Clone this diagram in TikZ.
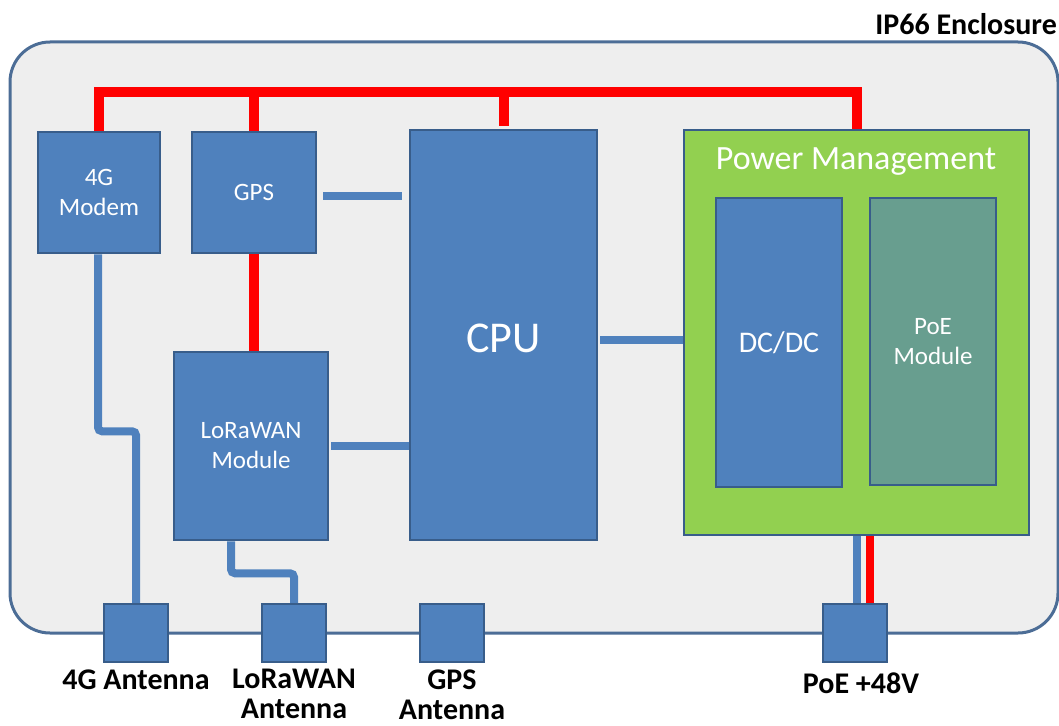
\documentclass[tikz,border=0pt]{standalone}
\usepackage{fontspec}
\setmainfont{Carlito}
\usetikzlibrary{positioning,calc}
\definecolor{mblue}{HTML}{4F81BD}
\definecolor{mblueL}{HTML}{385D8A}
\definecolor{mgreen}{HTML}{92D050}
\definecolor{mteal}{HTML}{689E8F}
\definecolor{mgray}{HTML}{EEEEEE}
\definecolor{mred}{HTML}{FF0000}
\tikzset{
  blk/.style ={draw=mblueL, fill=mblue, line width=2.5pt, inner sep=0pt, align=center,
               text=white, font=\fontsize{25}{30}\selectfont},
  pmb/.style ={blk, fill=mgreen},
  ant/.style ={blk, minimum width=64pt, minimum height=58pt},
  lab/.style ={font=\fontsize{30}{30}\selectfont\bfseries, align=center, inner sep=0pt},
  sig/.style ={draw=mblue, line width=8pt},
  pwr/.style ={draw=mred, line width=10pt},
}

\begin{document}
\begin{tikzpicture}[x=1pt,y=-1pt]
\useasboundingbox (0,0) rectangle (1059,725);

% ============ enclosure =====================================================
\draw[draw=mblueL!90, fill=mgray, line width=3pt, rounded corners=40pt] (10,42) rectangle (1058,633);
\node[lab, anchor=east] (encl) at (1057,24) {IP66 Enclosure};

% ============ blocks ========================================================
\node[blk, minimum width=122pt, minimum height=121pt] (modem) at (99,192.5) {4G\\Modem};
\node[blk, minimum width=124pt, minimum height=121pt] (gps) at (254,192.5) {GPS};
\node[blk, minimum width=154pt, minimum height=188pt] (lora) at (251,446) {LoRaWAN\\Module};
\node[blk, minimum width=187pt, minimum height=410pt] (cpu) at (503.5,335) {};
\node[text=white, font=\fontsize{44}{50}\selectfont] (cpulbl) at (503.5,338) {CPU};
\node[pmb, minimum width=345pt, minimum height=405pt] (pm) at (856.5,332.5) {};
\node[text=white, font=\fontsize{34}{40}\selectfont] (pmlbl) at (856,162) {Power Management};
\node[blk, minimum width=126pt, minimum height=289pt, font=\fontsize{30}{36}\selectfont] (dcdc) at (779,342.5) {DC/DC};
\node[blk, fill=mteal, minimum width=126pt, minimum height=287pt] (poe) at (933,341.5) {PoE\\Module};

% ============ antennas / ports ==============================================
\node[ant] (ant4g) at (136,633) {};
\node[ant] (antlora) at (294,633) {};
\node[ant] (antgps) at (452,633) {};
\node[ant] (antpoe) at (855,633) {};
\node[lab, below=6pt of ant4g] (l4g) {4G Antenna};
\node[lab, below=6pt of antlora] (llora) {LoRaWAN\\Antenna};
\node[lab, below=6pt of antgps] (lgps) {GPS\\Antenna};
\node[lab, below=9pt of antpoe, xshift=6pt] (lpoe) {PoE +48V};

% ============ power bus =====================================================
\coordinate (busy) at (0,92);
\draw[pwr] (modem.north) -- (modem.north |- busy) -- (pm.north |- busy) -- (pm.north);
\draw[pwr] (gps.north) -- (gps.north |- busy);
\draw[pwr] ([yshift=3pt]cpu.north) -- (cpu.north |- busy);
\draw[pwr] (gps.south) -- (gps.south |- lora.north);

% ============ signal links ==================================================
\draw[sig] ([xshift=6pt,yshift=-3pt]gps.east) -- ([xshift=-7pt,yshift=-3pt]gps.east -| cpu.west);
\draw[sig] ([xshift=2pt]lora.east) -- (lora.east -| cpu.west);
\draw[sig] ([xshift=2pt,yshift=-5pt]cpu.east) -- ([yshift=-5pt]cpu.east -| pm.west);
\draw[sig, rounded corners=4pt] ([xshift=-1pt]modem.south) -- ++(0,177) -| (ant4g.north);
\draw[sig, rounded corners=4pt] ([xshift=-20pt]lora.south) -- ++(0,32) -| (antlora.north);
\draw[sig] (pm.south) -- (pm.south |- antpoe.north);
\draw[pwr, line width=8pt] ([xshift=13pt]pm.south) -- ([xshift=13pt]pm.south |- antpoe.north);

\end{tikzpicture}
\end{document}
